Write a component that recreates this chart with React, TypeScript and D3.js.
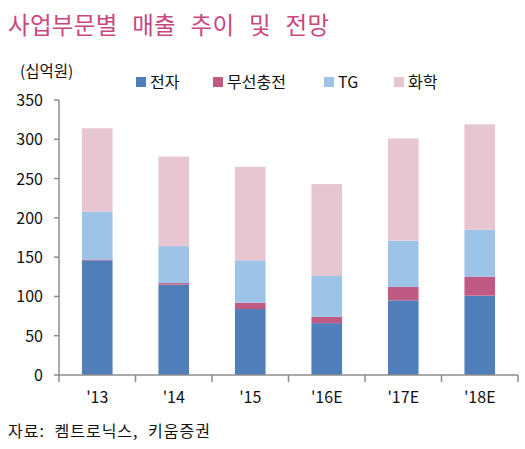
import React from "react";
import * as d3 from "d3";

const categories = ["'13", "'14", "'15", "'16E", "'17E", "'18E"];
const seriesNames = ["전자", "무선충전", "TG", "화학"];
const electronics = [146, 115, 84, 66, 95, 101];
const wireless = [1, 2, 8, 8, 17, 24];
const tg = [61, 47, 54, 52, 59, 60];
const chemical = [106, 114, 119, 117, 130, 134];
const yTicks = [0, 50, 100, 150, 200, 250, 300, 350];
const colors = ["#4F7EB9", "#C15A83", "#9DC3E6", "#E8C6D1"];

const W = 525;
const H = 449;
const margin = { left: 59, right: 7, top: 100, bottom: 74 };
const FONT = "'Noto Sans CJK KR', 'Noto Sans', sans-serif";

export default function App() {
  const x = d3
    .scaleBand<string>()
    .domain(categories)
    .range([margin.left, W - margin.right])
    .paddingInner(0.6)
    .paddingOuter(0.3);
  const xOuter = d3
    .scaleBand<string>()
    .domain(categories)
    .range([margin.left, W - margin.right]);
  const y = d3.scaleLinear().domain([0, 350]).range([H - margin.bottom, margin.top]);

  const table = categories.map((c, i) => ({
    cat: c,
    s0: electronics[i],
    s1: wireless[i],
    s2: tg[i],
    s3: chemical[i],
  }));
  const stack = d3.stack<any>().keys(["s0", "s1", "s2", "s3"]);
  const layers = stack(table);

  const y0 = y(0);
  const axisColor = "#8C8C8C";

  const legendX = [136, 213, 324, 394];

  return (
    <svg width={W} height={H} style={{ position: "absolute", left: 0, top: 0, background: "#fff" }}>
      <text x={8} y={34} fontFamily={FONT} fontSize={23.5} fill="#C8477E" wordSpacing={9} letterSpacing={0.3}>
        사업부문별 매출 추이 및 전망
      </text>
      <text x={20} y={77} fontFamily={FONT} fontSize={15.5} fill="#111">
        (십억원)
      </text>
      {seriesNames.map((n, i) => (
        <g key={n}>
          <rect x={legendX[i]} y={77} width={10} height={10} fill={colors[i]} />
          <text x={legendX[i] + 14} y={87.5} fontFamily={FONT} fontSize={16} fill="#111">
            {n}
          </text>
        </g>
      ))}
      {layers.map((layer, li) => (
        <g key={li} fill={colors[li]}>
          {layer.map((d, i) => (
            <rect
              key={i}
              x={x(categories[i])}
              width={x.bandwidth()}
              y={y(d[1])}
              height={y(d[0]) - y(d[1])}
            />
          ))}
        </g>
      ))}
      {/* y axis */}
      <line x1={margin.left} x2={margin.left} y1={y(350)} y2={y0 + 7} stroke={axisColor} strokeWidth={1.5} />
      {yTicks.map((t) => (
        <g key={t}>
          <line x1={margin.left - 5} x2={margin.left} y1={y(t)} y2={y(t)} stroke={axisColor} strokeWidth={1.5} />
          <text x={43} y={y(t) + 6} textAnchor="end" fontFamily={FONT} fontSize={16} fill="#111">
            {t}
          </text>
        </g>
      ))}
      {/* x axis */}
      <line x1={margin.left} x2={W - margin.right} y1={y0} y2={y0} stroke={axisColor} strokeWidth={1.5} />
      {categories.map((c, i) => (
        <line
          key={"t" + i}
          x1={(xOuter(c) as number) + xOuter.bandwidth()}
          x2={(xOuter(c) as number) + xOuter.bandwidth()}
          y1={y0}
          y2={y0 + 7}
          stroke={axisColor}
          strokeWidth={1.5}
        />
      ))}
      {categories.map((c) => (
        <text
          key={c}
          x={(x(c) as number) + x.bandwidth() / 2}
          y={403}
          textAnchor="middle"
          fontFamily={FONT}
          fontSize={16}
          fill="#111"
        >
          {c}
        </text>
      ))}
      <text x={8} y={437} fontFamily={FONT} fontSize={16} fill="#111" wordSpacing={5} letterSpacing={1}>
        자료: 켐트로닉스, 키움증권
      </text>
    </svg>
  );
}
